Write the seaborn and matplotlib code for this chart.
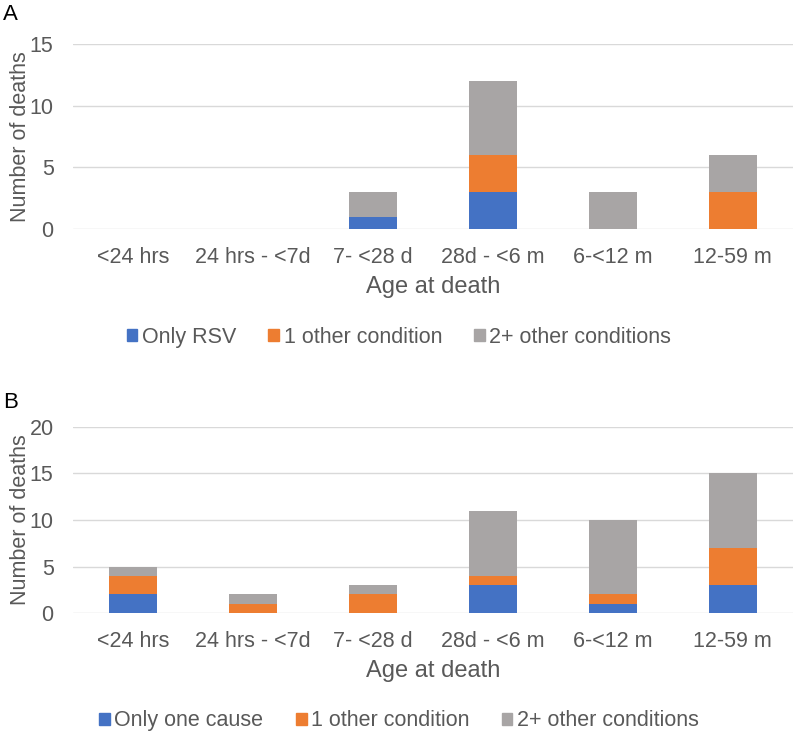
import pandas as pd
import seaborn as sns
import matplotlib.pyplot as plt
from matplotlib.patches import Patch

### datos ###
ages = ['<24 hrs', '24 hrs - <7d', '7- <28 d', '28d - <6 m', '6-<12 m', '12-59 m']

# panel A
a_only_rsv = [0, 0, 1, 3, 0, 0]
a_one_other = [0, 0, 0, 3, 0, 3]
a_two_plus = [0, 0, 2, 6, 3, 3]
a_labels = ['Only RSV', '1 other condition', '2+ other conditions']

# panel B
b_only_one = [2, 0, 0, 3, 1, 3]
b_one_other = [2, 1, 2, 1, 1, 4]
b_two_plus = [1, 1, 1, 7, 8, 8]
b_labels = ['Only one cause', '1 other condition', '2+ other conditions']

colors = ['#4472C4', '#ED7D31', '#A8A5A5']
txt = '#595959'

sns.set_theme(style='white')
plt.rcParams['font.family'] = ['Liberation Sans', 'DejaVu Sans']

fig = plt.figure(figsize=(7.98, 7.36), dpi=100)
axA = fig.add_axes([0.0915, 0.689, 0.902, 0.251])
axB = fig.add_axes([0.0915, 0.167, 0.902, 0.253])


def stacked(ax, series, labels, ymax, letter, letter_y, legend_y):
    df = pd.DataFrame({'age': ages, 's0': series[0], 's1': series[1], 's2': series[2]})
    # acumulados, se dibuja de atras hacia adelante
    df['c1'] = df['s0']
    df['c2'] = df['s0'] + df['s1']
    df['c3'] = df['c2'] + df['s2']
    for col, c in zip(['c3', 'c2', 'c1'], colors[::-1]):
        sns.barplot(data=df, x='age', y=col, color=c, width=0.4, linewidth=0,
                    saturation=1, ax=ax)
    ax.set_ylim(0, ymax)
    ax.set_yticks(range(0, ymax + 1, 5))
    ax.set_xlim(-0.5, len(ages) - 0.5)
    ax.yaxis.grid(True, color='#D9D9D9', linewidth=1)
    ax.set_axisbelow(True)
    for s in ax.spines.values():
        s.set_visible(False)
    ax.tick_params(axis='both', length=0, labelsize=15.5, colors=txt)
    ax.tick_params(axis='x', pad=13)
    ax.tick_params(axis='y', pad=14)
    ax.set_xlabel('Age at death', fontsize=17, color=txt, labelpad=6)
    ax.set_ylabel('Number of deaths', fontsize=15.5, color=txt, labelpad=-1)
    handles = [Patch(color=c, label=l) for c, l in zip(colors, labels)]
    fig.legend(handles=handles, loc='center', bbox_to_anchor=(0.5, legend_y), ncol=3,
               frameon=False, fontsize=15.5, handlelength=0.5, handleheight=0.5,
               columnspacing=1.5, handletextpad=0.2, labelcolor=txt)
    fig.text(0.004, letter_y, letter, fontsize=16, color='black', va='center', ha='left')


stacked(axA, [a_only_rsv, a_one_other, a_two_plus], a_labels, 15, 'A', 1 - 15 / 736, 0.542)
stacked(axB, [b_only_one, b_one_other, b_two_plus], b_labels, 20, 'B', 1 - 403 / 736, 0.0204)

fig.savefig('out.png', dpi=100, facecolor='white')
